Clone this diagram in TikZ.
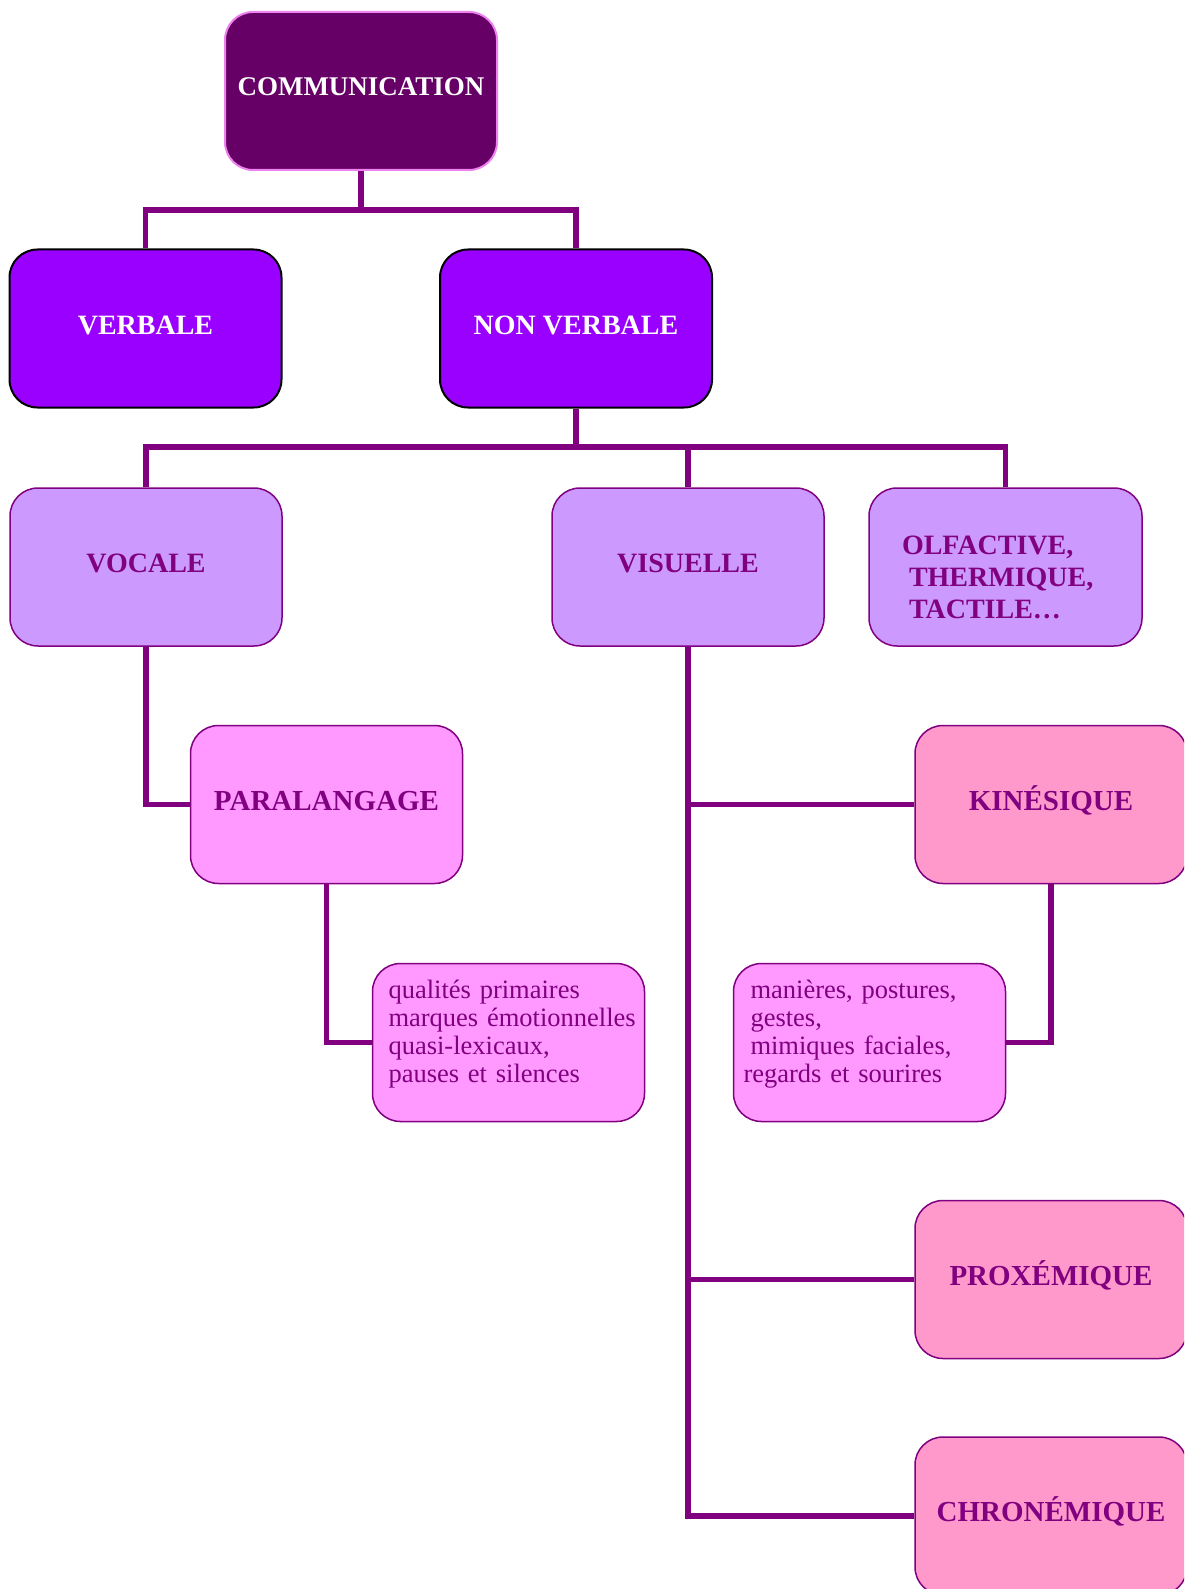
\documentclass[tikz,border=0pt]{standalone}
\usepackage{fontspec}
\setmainfont{Liberation Serif}
\definecolor{lc}{HTML}{800080}
\definecolor{commfill}{HTML}{660066}
\definecolor{commdraw}{HTML}{EE82EE}
\definecolor{verbfill}{HTML}{9900FF}
\definecolor{lvlfill}{HTML}{CC99FF}
\definecolor{pinkfill}{HTML}{FF99FF}
\definecolor{rosefill}{HTML}{FF99CC}
\begin{document}
\begin{tikzpicture}[x=1pt,y=-1pt,
  box/.style={rounded corners=28pt, minimum width=272pt, minimum height=158pt, inner sep=0pt, line width=1.5pt, draw=lc, text=lc, font=\fontsize{28}{32}\selectfont\bfseries},
  oneline/.style={text height=19pt, text depth=8pt},
  topbox/.style={box, oneline, text depth=10pt, fill=commfill, draw=commdraw, line width=2pt, text=white, font=\fontsize{27}{31}\selectfont\bfseries},
  midbox/.style={box, oneline, fill=verbfill, draw=black, line width=2pt, text=white},
  lvlbox/.style={box, fill=lvlfill},
  parabox/.style={box, oneline, fill=pinkfill, font=\fontsize{29}{33}\selectfont\bfseries},
  kinbox/.style={box, oneline, fill=rosefill, font=\fontsize{29}{33}\selectfont\bfseries},
  detbox/.style={box, fill=pinkfill, font=\fontsize{26.5}{27.8}\selectfont, text width=272pt, align=left},
  conn/.style={draw=lc, line width=5.5pt}
]
\path[use as bounding box] (0,0) rectangle (1184,1589);
\clip (0,0) rectangle (1184,1589);

\node[topbox] (comm) at (361,91) {COMMUNICATION};
\node[midbox] (verb) at (145.5,328.5) {VERBALE};
\node[midbox] (nonv) at (576,328.5) {NON VERBALE};
\node[lvlbox, oneline] (voc) at (146,567) {VOCALE};
\node[lvlbox, oneline] (vis) at (688,567) {VISUELLE};
\node[lvlbox, text width=273pt, align=left] (olf) at (1005.5,567)
  {\rule{0pt}{39.5pt}\hspace*{33pt}OLFACTIVE,\\ \hspace*{40pt}THERMIQUE,\\ \hspace*{40pt}TACTILE…};
\node[parabox] (para) at (326.5,804.5) {PARALANGAGE};
\node[kinbox] (kin) at (1051,804.5) {KINÉSIQUE};
\node[detbox] (pdet) at (508.5,1042.5)
  {\hspace*{16pt}\mbox{qualités primaires}\\ \hspace*{16pt}\mbox{marques émotionnelles}\\ \hspace*{16pt}\mbox{quasi-lexicaux,}\\ \hspace*{16pt}\mbox{pauses et silences}\rule[-22.75pt]{0pt}{0pt}};
\node[detbox] (kdet) at (869.5,1042.5)
  {\hspace*{17pt}\mbox{manières, postures,}\\ \hspace*{17pt}\mbox{gestes,}\\ \hspace*{17pt}\mbox{mimiques faciales,}\\ \hspace*{10pt}\mbox{regards et sourires}\rule[-22.75pt]{0pt}{0pt}};
\node[kinbox] (prox) at (1051,1279.5) {PROXÉMIQUE};
\node[kinbox] (chron) at (1051,1516) {CHRONÉMIQUE};

\coordinate (j1) at (361,210);
\coordinate (j2) at (576,447);
\coordinate (j3) at (vis.north |- j2);
\coordinate (vk) at (vis.south |- kin.west);
\coordinate (vp) at (vis.south |- prox.west);

\draw[conn] (comm.south) -- (j1);
\draw[conn] (verb.north) |- (j1) -| (nonv.north);
\draw[conn] (nonv.south) -- (j2);
\draw[conn] (voc.north) |- (j2) -| (olf.north);
\draw[conn] (vis.north) -- (j3);
\draw[conn] (voc.south) |- (para.west);
\draw[conn] (para.south) |- (pdet.west);
\draw[conn] (vis.south) |- (chron.west);
\draw[conn] (vk) -- (kin.west);
\draw[conn] (vp) -- (prox.west);
\draw[conn] (kin.south) |- (kdet.east);
\end{tikzpicture}
\end{document}
